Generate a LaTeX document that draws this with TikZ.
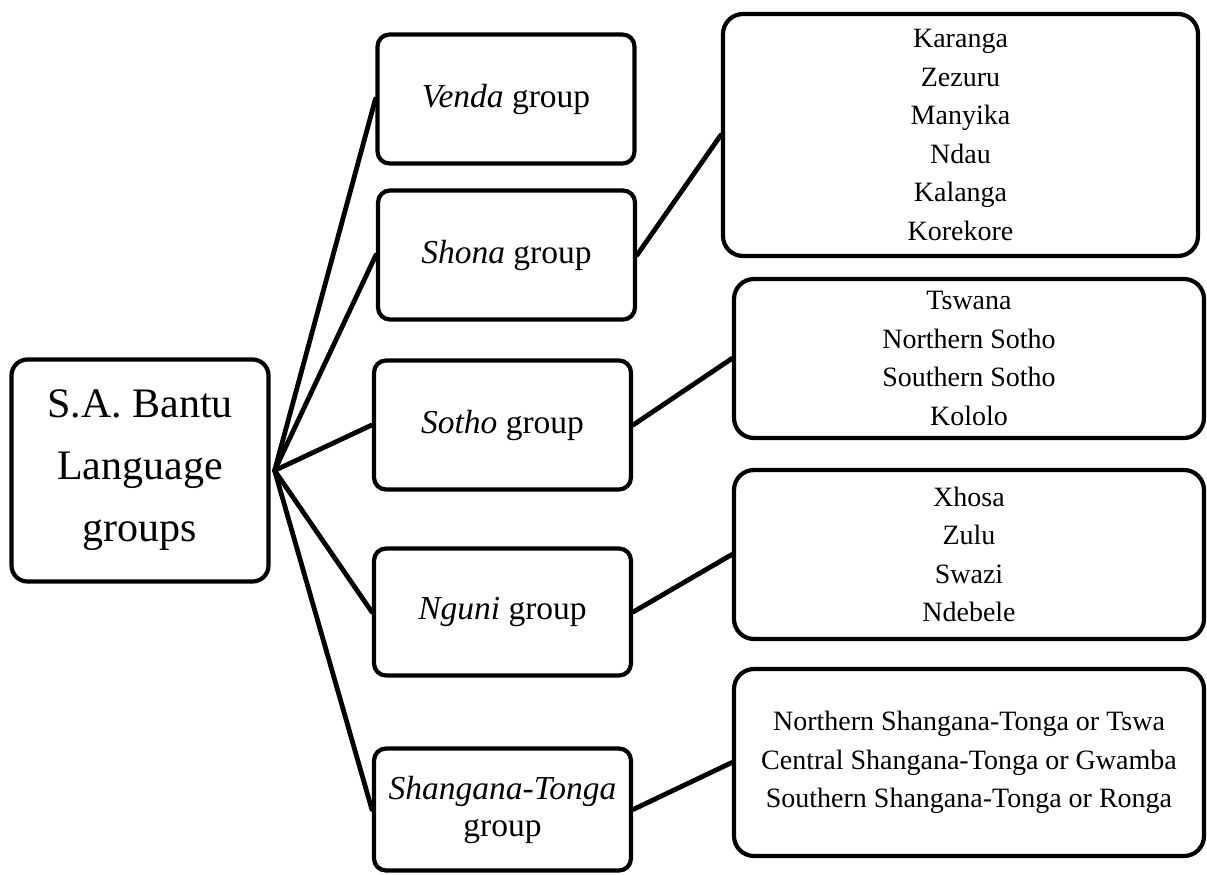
\documentclass[tikz,border=0pt]{standalone}
\usepackage{fontspec}
\setmainfont{Liberation Serif}
\begin{document}
\begin{tikzpicture}[x=1pt,y=-1pt,
  box/.style={draw=black, line width=4.2pt, rounded corners=12pt, inner sep=0pt, align=center, fill=white},
  rootbox/.style={box, rounded corners=16pt, font=\fontsize{42}{62}\selectfont},
  grpbox/.style={box, font=\fontsize{33.5}{37}\selectfont},
  listbox/.style={box, rounded corners=20pt, font=\fontsize{28}{38.5}\selectfont},
  link/.style={line width=4.8pt, line cap=round}]
\useasboundingbox (0,0) rectangle (1207,875);
\node[rootbox, minimum width=257pt, minimum height=222pt] (root) at (140,470.5) {S.A. Bantu\\Language\\groups};
\node[grpbox, minimum width=257pt, minimum height=129pt] (venda) at (506,99) {\textit{Venda} group};
\node[grpbox, minimum width=257pt, minimum height=129pt] (shona) at (506.5,255) {\textit{Shona} group};
\node[grpbox, minimum width=257pt, minimum height=129pt] (sotho) at (502.5,425) {\textit{Sotho} group};
\node[grpbox, minimum width=257pt, minimum height=127pt] (nguni) at (502.5,612) {\textit{Nguni} group};
\node[grpbox, minimum width=257pt, minimum height=122pt] (shang) at (502.5,809.5) {\textit{Shangana-Tonga}\\group};
\node[listbox, minimum width=475pt, minimum height=242pt] (shonal) at (960.5,135) {Karanga\\Zezuru\\Manyika\\Ndau\\Kalanga\\Korekore};
\node[listbox, minimum width=470pt, minimum height=159pt] (sothol) at (969,358.5) {Tswana\\Northern Sotho\\Southern Sotho\\Kololo};
\node[listbox, minimum width=470pt, minimum height=169pt] (ngunil) at (969,554.5) {Xhosa\\Zulu\\Swazi\\Ndebele};
\node[listbox, minimum width=470pt, minimum height=187pt] (shangl) at (969,762.5) {Northern Shangana-Tonga or Tswa\\Central Shangana-Tonga or Gwamba\\Southern Shangana-Tonga or Ronga};
\coordinate (o) at ([xshift=4pt]root.east);
\foreach \t in {venda,shona,sotho,nguni,shang}
  \draw[link] (o) -- (\t.west);
\draw[link] (shona.east) -- (shonal.west);
\draw[link] (sotho.east) -- (sothol.west);
\draw[link] (nguni.east) -- (ngunil.west);
\draw[link] (shang.east) -- (shangl.west);
\end{tikzpicture}
\end{document}
